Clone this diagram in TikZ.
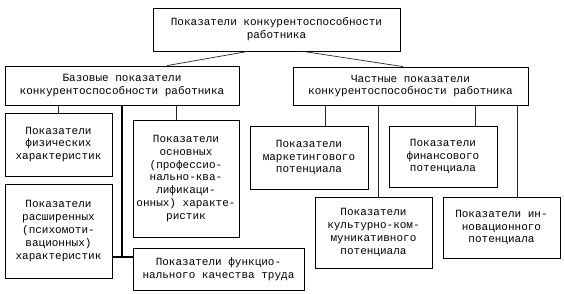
\documentclass[tikz,border=0pt]{standalone}
\usepackage{fontspec}
\setmainfont{Liberation Mono}
\usetikzlibrary{shadows}
\begin{document}
\begin{tikzpicture}[x=1pt,y=-1pt,
  box/.style={draw=black, line width=0.8pt, fill=white, inner sep=1pt, align=center,
    font=\fontsize{11}{12.8}\selectfont,
    general shadow={fill=black, shadow xshift=1.3pt, shadow yshift=-1.3pt}},
  conn/.style={draw=black!85, line width=0.7pt},
  trunk/.style={draw=black, line width=1.3pt}]
\useasboundingbox[fill=white] (0,0) rectangle (565,294);

\node[box, minimum width=247pt, minimum height=43pt] (top) at (276.5,29.5)
  {Показатели конкурентоспособности\\работника};
\node[box, minimum width=234pt, minimum height=39pt] (base) at (122,85.5)
  {Базовые показатели\\конкурентоспособности работника};
\node[box, minimum width=235pt, minimum height=38pt] (part) at (410.5,86)
  {Частные показатели\\конкурентоспособности работника};

\node[box, minimum width=107pt, minimum height=63pt] (fiz) at (58.5,144.5)
  {Показатели\\физических\\характеристик};
\node[box, minimum width=107pt, minimum height=94pt] (rash) at (58.5,231)
  {Показатели\\расширенных\\(психомоти-\\вационных)\\характеристик};
\node[box, minimum width=106pt, minimum height=117pt] (osn) at (186,178.5)
  {Показатели\\основных\\(профессио-\\нально-ква-\\лификаци-\\онных) характе-\\ристик};
\node[box, minimum width=171pt, minimum height=42pt] (func) at (218.5,269)
  {Показатели функцио-\\нального качества труда};

\node[box, minimum width=118pt, minimum height=63pt] (market) at (309,157.5)
  {Показатели\\маркетингового\\потенциала};
\node[box, minimum width=108pt, minimum height=61pt] (fin) at (443,156.5)
  {Показатели\\финансового\\потенциала};
\node[box, minimum width=117pt, minimum height=71pt] (kult) at (373.5,232.5)
  {Показатели\\культурно-ком-\\муникативного\\потенциала};
\node[box, minimum width=117pt, minimum height=61pt] (innov) at (501.5,227.5)
  {Показатели ин-\\новационного\\потенциала};

\coordinate (j) at (122,257);

\draw[conn] (top.south -| 248,0) -- (base.north -| 167,0);
\draw[conn] (top.south -| 303,0) -- (part.north -| 403,0);

\draw[conn] (base.south -| 58,0) -- (fiz.north -| 58,0);
\draw[conn] (base.south -| 176,0) -- (osn.north -| 176,0);
\draw[trunk] (base.south -| j) -- (j);
\draw[trunk] (rash.east |- j) -- (func.west |- j);

\draw[conn] (part.south -| 325,0) -- (market.north -| 325,0);
\draw[conn] (part.south -| 378,0) -- (kult.north -| 378,0);
\draw[conn] (part.south -| 475,0) -- (fin.north -| 475,0);
\draw[conn] (part.south -| 517,0) -- (innov.north -| 517,0);
\end{tikzpicture}
\end{document}
